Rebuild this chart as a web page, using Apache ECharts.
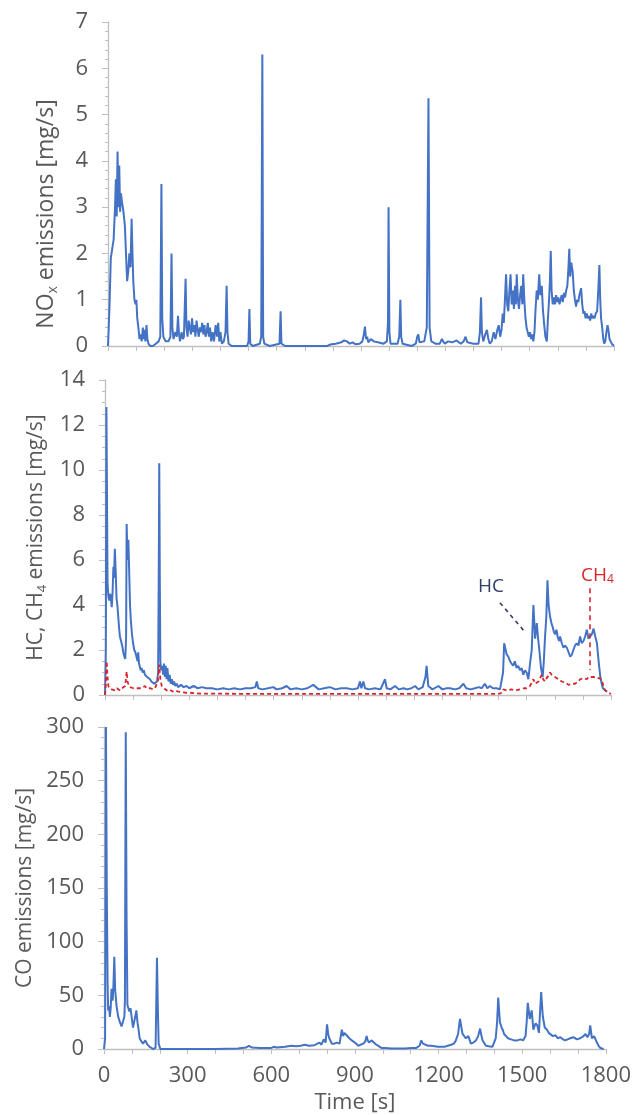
<!DOCTYPE html>
<html>
<head>
<meta charset="utf-8">
<script src="https://cdn.jsdelivr.net/npm/echarts@6/dist/echarts.min.js"></script>
<style>
html,body{margin:0;padding:0;background:#fff;}
#c{width:634px;height:1115px;}
</style>
</head>
<body>
<div id="c"></div>
<script>
// ---- DATA (time [s], value) ----
const xTicks = [0, 300, 600, 900, 1200, 1500, 1800];

const noxT = [0,5,10,15,20,25,28,31,34,37,40,43,46,50,55,60,64,68,72,76,80,84,87,90,94,98,101,104,108,112,116,120,124,127,130,133,137,140,144,150,160,170,180,186,190,193,197,205,215,222,226,229,233,240,245,249,252,256,262,266,270,276,279,283,287,291,295,299,303,307,311,315,319,323,327,331,335,339,343,347,351,355,359,363,367,372,377,383,388,392,396,400,405,412,418,422,425,429,440,495,500,503,506,515,540,545,549,552,556,575,610,614,617,630,780,790,810,830,840,850,860,870,880,895,905,910,914,918,922,926,935,945,960,980,992,996,998,1001,1005,1030,1036,1040,1043,1048,1080,1095,1100,1104,1108,1125,1134,1140,1144,1150,1165,1180,1188,1192,1198,1210,1225,1240,1255,1265,1272,1278,1300,1318,1323,1327,1330,1335,1342,1348,1353,1358,1365,1372,1378,1385,1390,1395,1400,1404,1408,1412,1416,1420,1424,1428,1432,1436,1440,1444,1448,1451,1454,1458,1462,1466,1470,1474,1477,1481,1485,1489,1493,1497,1501,1505,1509,1513,1517,1521,1525,1529,1534,1538,1543,1547,1551,1556,1561,1565,1569,1572,1575,1578,1582,1586,1590,1594,1598,1602,1606,1610,1614,1618,1622,1626,1630,1634,1638,1641,1644,1648,1653,1657,1661,1665,1669,1673,1677,1683,1687,1691,1695,1699,1703,1707,1711,1715,1719,1723,1727,1731,1735,1740,1744,1748,1751,1754,1758,1762,1765,1769,1773,1777,1780,1784,1788,1792,1800];
const noxV = [0,0.8,1.9,2.1,2.3,3.0,3.6,2.8,4.2,3.0,3.9,2.9,3.3,3.1,2.9,2.6,2.0,1.4,1.6,2.0,1.7,2.75,2.0,1.4,1.0,0.9,1.0,0.6,0.4,0.15,0.25,0.1,0.4,0.15,0.35,0.1,0.45,0.15,0.05,0,0,0.05,0.1,0.2,3.5,0.6,0.2,0.1,0.1,0.2,2.0,0.4,0.15,0.3,0.2,0.65,0.3,0.1,0.3,0.15,0.2,1.45,0.4,0.2,0.55,0.4,0.25,0.6,0.3,0.45,0.2,0.55,0.35,0.2,0.4,0.3,0.5,0.25,0.45,0.2,0.3,0.5,0.2,0.4,0.1,0.3,0.1,0.45,0.2,0.5,0.1,0.3,0.05,0.1,0.3,1.3,0.3,0.05,0,0,0.1,0.8,0.05,0,0.05,0.2,6.3,0.2,0.05,0,0.05,0.75,0.05,0,0,0.03,0.05,0.08,0.12,0.1,0.05,0.08,0.04,0.05,0.1,0.25,0.42,0.15,0.2,0.08,0.15,0.1,0.08,0.05,0.1,0.5,3.0,0.3,0.05,0.05,0.2,1.0,0.2,0.05,0,0.05,0.2,0.25,0.08,0.1,0.4,5.35,0.4,0.1,0.05,0.05,0.15,0.1,0.05,0.1,0.08,0.12,0.05,0.1,0.2,0.08,0.05,0.05,0.3,1.05,0.3,0.1,0.25,0.35,0.15,0.05,0.1,0.3,0.15,0.35,0.45,0.2,0.35,0.7,0.5,1.0,1.55,0.9,0.75,1.2,1.55,0.9,1.2,0.8,1.3,0.9,1.55,1.0,0.8,1.1,1.3,0.9,1.55,1.0,0.6,0.4,0.3,0.2,0.3,0.15,0.25,0.1,0.3,0.8,1.2,1.0,1.55,1.1,1.3,0.8,0.5,0.2,0.1,0.6,1.0,1.4,2.05,1.2,0.9,1.05,0.9,1.1,0.95,1.05,0.9,1.0,1.1,0.95,1.15,1.05,1.2,1.3,1.7,2.1,1.5,1.8,1.6,1.2,1.0,0.85,1.0,0.95,1.1,1.25,0.9,0.7,0.75,0.6,0.7,0.6,0.65,0.55,0.7,0.6,0.65,0.6,0.7,0.75,1.2,1.75,1.0,0.6,0.4,0.15,0.05,0.1,0.3,0.45,0.35,0.15,0.1,0.05,0];

const hcT = [0,3,5,7,9,12,15,18,21,24,27,30,32,35,38,41,44,47,50,53,57,61,65,69,72,75,77,80,83,86,89,92,96,100,104,108,112,116,118,121,124,127,130,134,138,142,146,150,155,160,165,170,175,180,185,189,191,193,195,197,200,204,207,210,213,216,219,222,226,230,234,238,242,246,250,255,260,270,280,290,300,315,330,345,360,380,400,420,440,460,480,500,520,535,540,545,560,580,599,610,630,646,660,680,700,720,741,760,780,800,820,840,860,880,900,907,912,919,925,940,960,980,996,1002,1015,1032,1045,1062,1075,1090,1103,1115,1130,1140,1144,1150,1165,1186,1200,1215,1227,1245,1260,1275,1285,1300,1316,1330,1340,1351,1360,1369,1380,1393,1405,1411,1416,1420,1429,1435,1441,1446,1452,1458,1464,1470,1476,1482,1488,1494,1500,1506,1512,1518,1524,1530,1536,1540,1545,1551,1557,1561,1565,1570,1574,1578,1583,1588,1593,1597,1601,1606,1610,1615,1619,1625,1631,1637,1643,1649,1655,1661,1666,1672,1678,1684,1690,1696,1702,1708,1714,1720,1726,1732,1738,1744,1750,1756,1762,1767,1771,1775,1780,1786,1791,1800];
const hcV = [0,2.0,12.8,9.0,5.0,4.4,4.2,4.5,4.3,3.9,4.6,5.7,5.2,6.5,5.5,4.3,4.0,3.5,3.0,2.6,2.4,2.2,1.9,1.7,1.6,2.5,7.6,6.0,6.9,5.5,4.0,3.3,2.7,2.3,2.0,1.9,1.7,1.5,1.9,1.4,1.4,1.1,1.2,1.0,1.1,0.9,0.9,0.8,0.8,0.7,0.6,0.6,0.5,0.5,0.6,1.0,5.0,10.3,5.0,1.5,1.1,1.3,0.9,1.4,0.8,1.3,0.7,1.2,0.6,0.9,0.5,0.7,0.45,0.6,0.4,0.5,0.35,0.45,0.35,0.4,0.3,0.4,0.3,0.35,0.3,0.3,0.25,0.3,0.25,0.3,0.25,0.3,0.3,0.35,0.6,0.3,0.25,0.3,0.35,0.25,0.3,0.4,0.25,0.3,0.25,0.3,0.45,0.25,0.3,0.35,0.25,0.3,0.3,0.25,0.3,0.6,0.3,0.6,0.3,0.25,0.3,0.25,0.7,0.3,0.25,0.4,0.25,0.3,0.25,0.3,0.4,0.25,0.35,0.8,1.3,0.4,0.25,0.4,0.25,0.3,0.3,0.25,0.3,0.5,0.3,0.25,0.3,0.35,0.3,0.5,0.3,0.4,0.3,0.3,0.25,0.3,1.0,2.3,1.8,1.7,1.5,1.4,1.3,1.5,1.2,1.3,1.1,1.2,0.9,1.1,1.0,0.7,1.4,2.0,4.0,2.5,3.2,2.6,2.0,1.2,0.8,1.5,2.5,3.5,5.1,4.0,3.5,3.2,3.0,2.8,2.7,2.9,2.6,2.4,2.6,2.3,2.1,2.2,2.1,1.9,1.7,1.8,2.0,2.2,2.3,2.2,2.6,2.3,2.4,2.6,2.9,2.5,2.5,2.7,2.95,2.6,2.3,1.5,0.8,0.5,0.3,0.25,0.2,0.15];

const ch4T = [0,3,6,9,12,16,20,24,30,36,42,48,54,60,66,72,77,80,83,88,95,101,108,115,122,130,136,142,148,155,162,170,178,184,188,193,197,202,210,220,230,240,250,260,275,290,302,320,350,400,500,600,700,800,900,1000,1100,1200,1300,1400,1412,1417,1430,1445,1460,1475,1490,1500,1506,1512,1518,1524,1530,1536,1542,1548,1553,1559,1565,1571,1577,1583,1589,1595,1601,1607,1613,1619,1625,1631,1637,1643,1649,1655,1661,1667,1672,1678,1684,1690,1696,1702,1708,1714,1720,1726,1732,1738,1744,1750,1756,1762,1767,1773,1780,1790,1800];
const ch4V = [0,0.5,1.5,0.8,0.4,0.3,0.35,0.25,0.3,0.2,0.3,0.25,0.2,0.3,0.25,0.4,1.05,0.6,0.5,0.35,0.3,0.3,0.25,0.3,0.35,0.3,0.35,0.4,0.3,0.25,0.3,0.25,0.3,0.5,0.6,1.35,0.7,0.4,0.3,0.2,0.25,0.15,0.2,0.15,0.12,0.1,0.1,0.08,0.06,0.06,0.05,0.05,0.05,0.05,0.05,0.05,0.05,0.05,0.05,0.05,0.1,0.25,0.2,0.25,0.2,0.25,0.3,0.3,0.35,0.4,0.55,0.7,0.5,0.55,0.6,0.75,0.9,0.7,0.6,0.75,0.85,1.0,0.9,0.85,0.8,0.75,0.7,0.75,0.6,0.55,0.55,0.5,0.45,0.45,0.5,0.5,0.5,0.55,0.6,0.7,0.65,0.75,0.75,0.7,0.8,0.85,0.8,0.75,0.8,0.8,0.75,0.8,0.7,0.4,0.2,0.1,0.05,0.05];

const coT = [0,4,7,10,13,15,18,21,24,27,31,34,37,40,45,51,57,63,69,73,75,78,81,84,87,91,95,100,104,108,112,116,120,124,128,134,140,144,148,156,164,170,176,185,188,190,193,196,202,300,400,480,510,520,530,560,600,609,620,650,672,690,705,720,735,755,765,773,780,788,795,800,804,808,817,826,835,845,853,858,862,870,880,889,900,912,920,930,937,942,946,950,955,960,968,977,995,1010,1030,1055,1080,1102,1120,1132,1138,1144,1150,1162,1174,1186,1197,1210,1221,1233,1245,1255,1262,1270,1277,1282,1286,1298,1307,1316,1325,1334,1342,1349,1354,1358,1365,1370,1380,1393,1400,1405,1410,1414,1420,1426,1430,1435,1442,1449,1460,1471,1482,1494,1503,1512,1516,1520,1527,1534,1540,1548,1554,1560,1568,1574,1581,1589,1595,1601,1610,1619,1628,1637,1646,1654,1663,1672,1684,1696,1708,1720,1727,1734,1740,1744,1750,1758,1763,1768,1774,1780,1786,1792,1800];
const coV = [0,10,300,150,60,36,40,30,38,56,45,60,86,55,40,30,25,21,20,30,45,295,120,41,40,35,38,28,20,25,30,36,25,18,10,7,5,6,8,4,2,1,0,1,2,85,40,5,0,0,0,0.5,1.5,3,1.5,1,1,2,1.5,2,3,2.5,3,4,3,3.5,5,6,4,9,6,23,14,10,5,5,6,5,18,12,15,13,10,8,6,3,4,5,7,12,8,6,5,8,6,4,1,1,0.5,0.5,0.5,1,1,3,8,5,4,3,3,2.5,2,2,2,3,4,5,8,14,28,20,14,10,12,5,6,8,12,19,12,8,5,3,2.5,2,3,10,25,48,25,20,18,14,12,10,9,8,8,9,8,12,25,43,28,36,18,24,22,15,53,30,20,18,15,14,12,13,10,11,9,8,9,10,11,9,10,12,14,11,14,22,10,12,12,6,3,1,0.5,0];

// annotation anchors (data coordinates)
const hcLabel = [1373, 4.8];
const hcLeader = [[1405, 4.1], [1494, 2.8]];
const ch4Label = [1752, 5.3];
const ch4Leader = [[1725, 4.75], [1725, 1.1]];

const zip = (t, v) => t.map((x, i) => [x, v[i]]);

const BLUE = '#4472C4';
const RED = '#D7262F';
const GRAY = '#595959';
const LINE = '#BFBFBF';
const FONT = 'Open Sans';
const CLEAR = 'rgba(0,0,0,0)';

function xAx(idx, showLabels) {
  return {
    type: 'value', gridIndex: idx, min: 0, max: 1800, interval: 100,
    axisLine: { show: true, lineStyle: { color: LINE, width: 1.3 } },
    axisTick: { show: true, length: 5, lineStyle: { color: LINE } },
    splitLine: { show: false },
    axisLabel: {
      show: showLabels, margin: 16, color: GRAY, fontSize: 22, fontFamily: FONT,
      formatter: v => (xTicks.indexOf(v) >= 0 ? String(v) : '')
    },
    name: showLabels ? 'Time [s]' : '',
    nameLocation: 'middle', nameGap: 43,
    nameTextStyle: { color: GRAY, fontSize: 22, fontFamily: FONT }
  };
}
function yAx(idx, max, interval, minorSplit, nameRich, nameSize, pad) {
  return {
    type: 'value', gridIndex: idx, min: 0, max: max, interval: interval,
    axisLine: { show: true, lineStyle: { color: LINE, width: 1.3 } },
    axisTick: { show: true, length: 6, lineStyle: { color: LINE } },
    minorTick: { show: true, splitNumber: minorSplit, length: 3, lineStyle: { color: LINE } },
    splitLine: { show: false },
    axisLabel: { margin: 20, color: GRAY, fontSize: 22, fontFamily: FONT },
    name: nameRich,
    nameLocation: 'middle',
    nameGap: 50,
    nameTextStyle: {
      color: GRAY, fontSize: nameSize, fontFamily: FONT, padding: pad,
      rich: {
        a: { color: GRAY, fontSize: nameSize, fontFamily: FONT },
        s: { color: GRAY, fontSize: Math.round(nameSize * 0.62), fontFamily: FONT, verticalAlign: 'bottom', padding: [0, 0, -2, 0] }
      }
    }
  };
}

const chart = echarts.init(document.getElementById('c'), null, { renderer: 'canvas' });
chart.setOption({
  backgroundColor: '#fff',
  animation: false,
  grid: [
    { left: 108, top: 22, width: 506, height: 324 },
    { left: 105, top: 380, width: 506, height: 315 },
    { left: 104, top: 727, width: 505, height: 322 }
  ],
  xAxis: [xAx(0, false), xAx(1, false), xAx(2, true)],
  yAxis: [
    yAx(0, 7, 1, 5, '{a|NO}{s|x}{a| emissions [mg/s]}', 23, [0, 60, 0, 0]),
    yAx(1, 14, 2, 4, '{a|HC, CH}{s|4}{a| emissions [mg/s]}', 21, 0),
    yAx(2, 300, 50, 5, 'CO emissions [mg/s]', 21, 0)
  ],
  series: [
    { type: 'line', xAxisIndex: 0, yAxisIndex: 0, data: zip(noxT, noxV), showSymbol: false,
      lineStyle: { color: BLUE, width: 2 }, z: 3 },
    { type: 'line', xAxisIndex: 1, yAxisIndex: 1, data: zip(hcT, hcV), showSymbol: false,
      lineStyle: { color: BLUE, width: 2 }, z: 3,
      markLine: {
        silent: true, symbol: ['none', 'none'], label: { show: false },
        lineStyle: { color: '#2F3E66', type: [4, 4], width: 1.6 },
        data: [[{ coord: hcLeader[0] }, { coord: hcLeader[1] }]]
      },
      markPoint: {
        silent: true,
        data: [{ coord: hcLabel, symbol: 'circle', symbolSize: 2, itemStyle: { color: CLEAR },
          label: { show: true, position: 'inside', formatter: 'HC', color: '#2F3E66', fontSize: 19, fontFamily: FONT } }]
      }
    },
    { type: 'line', xAxisIndex: 1, yAxisIndex: 1, data: zip(ch4T, ch4V), showSymbol: false,
      lineStyle: { color: RED, width: 1.8, type: [4, 3] }, z: 4,
      markLine: {
        silent: true, symbol: ['none', 'none'], label: { show: false },
        lineStyle: { color: RED, type: [5, 4], width: 1.6 },
        data: [[{ coord: ch4Leader[0] }, { coord: ch4Leader[1] }]]
      },
      markPoint: {
        silent: true,
        data: [{ coord: ch4Label, symbol: 'circle', symbolSize: 2, itemStyle: { color: CLEAR },
          label: { show: true, position: 'inside', formatter: '{a|CH}{s|4}', color: RED,
            rich: { a: { color: RED, fontSize: 19, fontFamily: FONT },
                    s: { color: RED, fontSize: 12, fontFamily: FONT, verticalAlign: 'bottom' } } } }]
      }
    },
    { type: 'line', xAxisIndex: 2, yAxisIndex: 2, data: zip(coT, coV), showSymbol: false,
      lineStyle: { color: BLUE, width: 2 }, z: 3 }
  ]
});
</script>
</body>
</html>
